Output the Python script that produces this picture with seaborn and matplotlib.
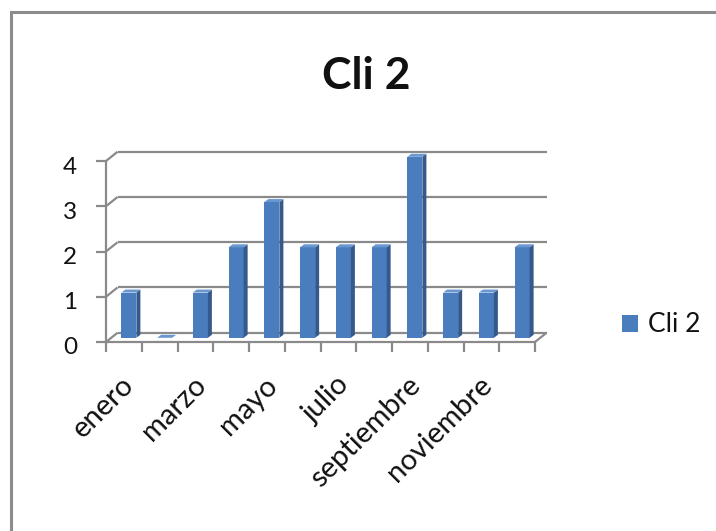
import matplotlib
matplotlib.use("Agg")
import matplotlib.pyplot as plt
import pandas as pd
import seaborn as sns
from matplotlib import transforms as mtransforms
from matplotlib.patches import Polygon, Rectangle, Patch
from matplotlib.lines import Line2D

# ---- data -------------------------------------------------------------
months = ["enero", "febrero", "marzo", "abril", "mayo", "junio",
          "julio", "agosto", "septiembre", "octubre", "noviembre", "diciembre"]
values = [1, 0, 1, 2, 3, 2, 2, 2, 4, 1, 1, 2]
y_ticks = [0, 1, 2, 3, 4]
series_name = "Cli 2"
chart_title = "Cli 2"
label_step = 2          # every other month is labelled on the floor

# ---- style -------------------------------------------------------------
FRONT = "#4A7DBE"
SIDE = "#35598A"
TOP = "#6A97D0"
GRID = "#8A8A8A"
TEXT = "#111111"

sns.set_theme(style="white")
plt.rcParams["font.family"] = ["Lato", "DejaVu Sans"]

W, H, DPI = 716, 531, 100
fig = plt.figure(figsize=(W / DPI, H / DPI), dpi=DPI)
fig.patch.set_facecolor("white")

# the axes is the mid-depth plane of the pseudo-3D box
ax = fig.add_axes([111 / W, 1 - 337.8 / H, (540 - 111) / W, (337.8 - 156.8) / H])

df = pd.DataFrame({"mes": months, "valor": values})
sns.barplot(data=df, x="mes", y="valor", color=FRONT, saturation=1,
            width=0.42, linewidth=0, ax=ax, zorder=3)
ax.set_xlim(-0.5, len(months) - 0.5)
ax.set_ylim(y_ticks[0], y_ticks[-1])
ax.axis("off")

px = lambda dx, dy: mtransforms.ScaledTranslation(dx / DPI, dy / DPI, fig.dpi_scale_trans)
front = ax.transData + px(-5, -4.2)     # front edge of the floor / y axis
back = ax.transData + px(6.6, 5.1)      # back wall
ident = mtransforms.IdentityTransform()

x_lo, x_hi = -0.5, len(months) - 0.5
line_kw = dict(color=GRID, lw=1.6, solid_capstyle="butt", clip_on=False)

# back wall gridlines
for v in y_ticks:
    ax.plot([x_lo, x_hi], [v, v], transform=back, zorder=1, **line_kw)

def seg(p, q, z=2):
    ax.add_line(Line2D([p[0], q[0]], [p[1], q[1]], transform=ident, zorder=z, **line_kw))

# diagonals from the front axis to the back wall, ticks and the floor edge
for v in y_ticks:
    f = front.transform((x_lo, v))
    seg(f, back.transform((x_lo, v)))
    seg(f, (f[0] - 10, f[1]))
    ax.text(x_lo, v, str(v), transform=front + px(-29, -12.5), ha="right",
            va="baseline", fontsize=17.5, color=TEXT)

seg(front.transform((x_lo, y_ticks[0])), front.transform((x_lo, y_ticks[-1])))
seg(front.transform((x_lo, 0)), front.transform((x_hi, 0)))
seg(front.transform((x_hi, 0)), back.transform((x_hi, 0)))
for k in range(len(months) + 1):
    f = front.transform((k - 0.5, 0))
    seg(f, (f[0], f[1] - 10))

# month labels on the floor
for i, m in enumerate(months):
    if i % label_step == 0:
        ax.text(i, 0, m, transform=front + px(-3, -30), ha="right", va="top",
                rotation=45, rotation_mode="anchor", fontsize=21, color=TEXT)

# side and top faces of each column
depth = (4, 3)
for p in list(ax.patches):
    x0, w, h = p.get_x(), p.get_width(), p.get_height()
    tl = ax.transData.transform((x0, h))
    tr = ax.transData.transform((x0 + w, h))
    br = ax.transData.transform((x0 + w, 0))
    sh = lambda q: (q[0] + depth[0], q[1] + depth[1])
    ax.add_patch(Polygon([br, sh(br), sh(tr), tr], closed=True, transform=ident,
                         facecolor=SIDE, edgecolor="none", clip_on=False, zorder=3))
    ax.add_patch(Polygon([tl, tr, sh(tr), sh(tl)], closed=True, transform=ident,
                         facecolor=TOP, edgecolor="none", clip_on=False, zorder=3))

# title
fig.text(366.5 / W, 1 - 89 / H, chart_title, ha="center", va="baseline",
         fontsize=32, fontweight="bold", color=TEXT)

# legend
ax.legend(handles=[Patch(facecolor=FRONT, edgecolor="none", label=series_name)],
          loc="center left", bbox_to_anchor=(622 / W, 1 - 325 / H),
          bbox_transform=fig.transFigure, frameon=False, fontsize=19,
          handlelength=0.6, handleheight=0.6, handletextpad=0.38,
          borderpad=0, borderaxespad=0, labelcolor=TEXT)

# chart area border (runs past the right and bottom edges)
fig.add_artist(Rectangle((10.5 / W, -0.2), 2, 1 - 11.5 / H + 0.2,
                         transform=fig.transFigure, fill=False,
                         edgecolor="#8C8C8C", lw=2.2))

fig.savefig("out.png", dpi=DPI)
